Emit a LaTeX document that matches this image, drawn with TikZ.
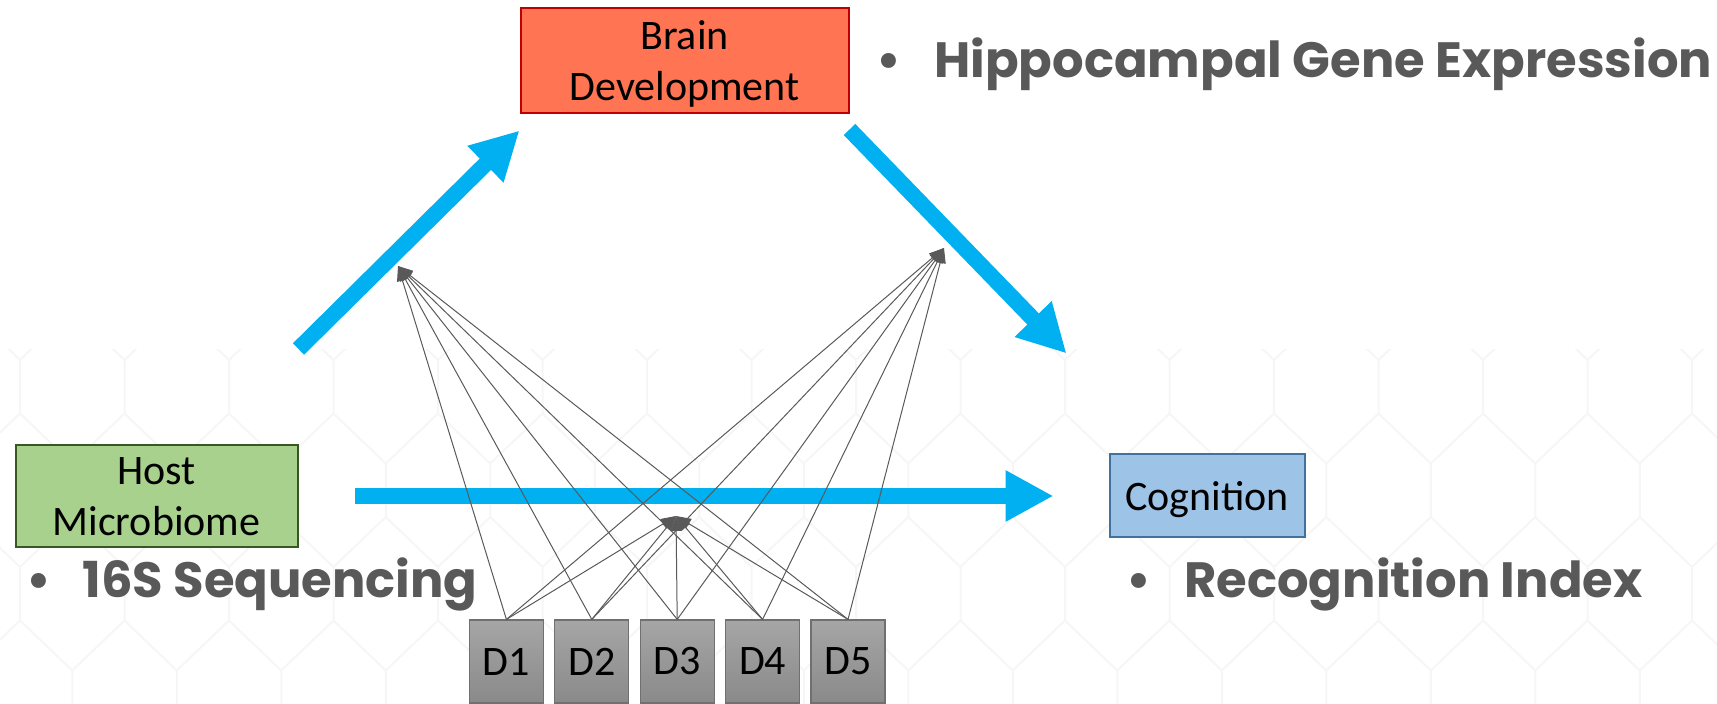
\documentclass[tikz,border=0pt]{standalone}
\usepackage{fontspec}
\setmainfont{Carlito}
\newfontfamily\headfont{Poppins}
\usepackage{xcolor}
\usepackage{tikz}
\usetikzlibrary{arrows.meta, positioning}
\definecolor{flowblue}{HTML}{00B0F0}
\definecolor{brainfill}{HTML}{FF7452}
\definecolor{brainline}{HTML}{C00000}
\definecolor{hostfill}{HTML}{A9D18E}
\definecolor{hostline}{HTML}{385723}
\definecolor{cogfill}{HTML}{9DC3E6}
\definecolor{cogline}{HTML}{41719C}
\definecolor{linkgray}{HTML}{595959}
\definecolor{textgray}{HTML}{595959}
\definecolor{hexgray}{HTML}{F6F6F6}
\newcommand{\boxlines}[1]{\raisebox{-2pt}[\height][\depth]{\begin{tabular}{@{}c@{}}#1\end{tabular}}}
\tikzset{
    box/.style={draw, line width=1pt, align=center, inner sep=0pt, font=\fontsize{21}{25.5}\selectfont},
    brainbox/.style={box, fill=brainfill, draw=brainline, minimum width=164pt, minimum height=52.5pt},
    hostbox/.style={box, fill=hostfill, draw=hostline, minimum width=141pt, minimum height=46.5pt},
    cogbox/.style={box, fill=cogfill, draw=cogline, minimum width=97.5pt, minimum height=41.5pt},
    dbox/.style={box, draw=black!56, line width=0.6pt, top color=black!35, bottom color=black!46, minimum width=37pt, minimum height=41.5pt},
    flow/.style={draw=flowblue, line width=8pt, -{Triangle[length=24pt,width=24pt]}},
    link/.style={draw=linkgray, line width=0.5pt, -{Triangle[length=7.5pt,width=5.5pt]}},
    point/.style={anchor=base west, inner sep=0pt, text=textgray, font=\headfont\bfseries\fontsize{24.8}{29}\selectfont},
    hexline/.style={draw=hexgray, line width=1pt}
}

\begin{document}
\begin{tikzpicture}[x=0.5pt, y=-0.5pt]
    \useasboundingbox (0,0) rectangle (1717,704);
    % faint hexagon background
    \begin{scope}
        \clip (0,350) rectangle (1717,704);
        \foreach \i in {-1,...,16}
            \foreach \j in {153,360,567}
                \draw[hexline] ({20+104.5*\i},\j) -- ++(0,53.5) -- ++(52.25,50) -- ++(0,53.5) -- ++(-52.25,50)
                    ({20+104.5*\i},\j+53.5) -- ++(-52.25,50)
                    ({72.25+104.5*\i},\j+157) -- ++(52.25,50);
    \end{scope}

    \node[brainbox] (brain) at (684.5,61) {\boxlines{Brain\\Development}};
    \node[hostbox] (host) at (156.5,496) {\boxlines{Host\\Microbiome}};
    \node[cogbox] (cog) at (1207,496) {\boxlines{Cognition}};
    \foreach \k in {1,...,5}
        \node[dbox] (d\k) at ({421+85.4*\k},661.5) {D\k};

    \node[point] (hippo) at (876,78) {\makebox[29pt][l]{\textbullet}Hippocampal Gene Expression};
    \node[point] (seq) at (26,597) {\makebox[28pt][l]{\textbullet}16S Sequencing};
    \node[point] (recog) at (1126,597) {\makebox[29pt][l]{\textbullet}Recognition Index};

    % main paths
    \draw[flow] ([yshift=47.5pt]host.north east) -- ([yshift=-8pt]brain.south west);
    \draw[flow] ([yshift=-7.5pt]brain.south east) -- ([shift={(-21pt,50pt)}]cog.north west);
    \draw[flow] ([xshift=28pt]host.east) -- ([xshift=-27.5pt]cog.west);

    % D1..D5 act on each path
    \coordinate (mbBrain) at (398,266);
    \coordinate (brainCog) at (944,248);
    \coordinate (mbCog) at (676,516);
    \foreach \k in {1,...,5}
        \foreach \t in {mbBrain,brainCog,mbCog}
            \draw[link] (d\k.north) -- (\t);
\end{tikzpicture}
\end{document}
